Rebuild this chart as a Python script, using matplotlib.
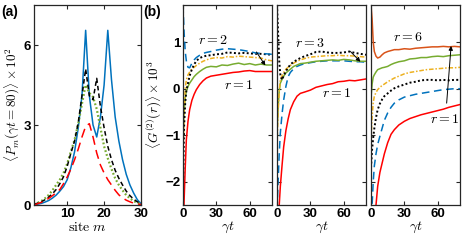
import matplotlib.pyplot as plt
import numpy as np

plt.rcParams['mathtext.fontset'] = 'cm'
plt.rcParams['font.family'] = ['Liberation Sans', 'DejaVu Sans']

# MATLAB default colours
BLUE = '#0072BD'
RED = '#FF0000'
GREEN = '#77AC30'
YELLOW = '#EDB120'
ORANGE = '#D95319'
SPINE = '#262626'

# ---- panel (a): occupation profile at gamma t = 80
sites = np.arange(1, 31)
p_blue = [0.0, 0.03, 0.06, 0.11, 0.17, 0.26, 0.37, 0.52, 0.69, 0.95,
          1.4, 2.0, 2.9, 4.1, 6.55, 4.1, 3.0, 2.55, 3.3, 4.5,
          6.55, 4.7, 3.3, 2.4, 1.7, 1.15, 0.75, 0.45, 0.2, 0.05]
p_black = [0.02, 0.07, 0.12, 0.2, 0.3, 0.42, 0.58, 0.8, 1.06, 1.45,
           1.95, 2.4, 3.1, 4.1, 5.1, 4.1, 3.95, 4.75, 3.7, 2.9,
           2.2, 1.7, 1.3, 1.0, 0.75, 0.52, 0.35, 0.22, 0.12, 0.05]
p_green = [0.03, 0.08, 0.15, 0.25, 0.38, 0.55, 0.75, 0.95, 1.2, 1.55,
           2.0, 2.45, 3.05, 3.8, 4.5, 4.2, 4.05, 3.6, 2.9, 2.2,
           1.75, 1.35, 1.0, 0.75, 0.55, 0.37, 0.25, 0.15, 0.08, 0.04]
p_red = [0.0, 0.05, 0.1, 0.16, 0.25, 0.35, 0.46, 0.58, 0.8, 1.05,
         1.35, 1.7, 2.1, 2.55, 2.95, 3.05, 2.55, 1.95, 1.5, 1.2,
         0.95, 0.75, 0.55, 0.38, 0.27, 0.18, 0.12, 0.07, 0.04, 0.02]

# ---- panel (b): G2 correlations vs time
t_grid = [0, 1, 2, 3, 4.5, 6, 8, 10, 12, 15, 18, 21, 25, 30, 35, 40,
          45, 50, 55, 60, 65, 70, 75, 80]

b1_red = [-3.2, -2.4, -1.7, -1.1, -0.7, -0.45, -0.25, -0.12, -0.02, 0.09, 0.17, 0.23,
          0.27, 0.29, 0.31, 0.33, 0.35, 0.36, 0.38, 0.39, 0.37, 0.37, 0.37, 0.37]
b1_green = [-1.2, -0.5, -0.2, -0.05, 0.05, 0.12, 0.19, 0.26, 0.31, 0.37, 0.42, 0.46,
            0.48, 0.47, 0.51, 0.50, 0.53, 0.55, 0.52, 0.54, 0.51, 0.53, 0.51, 0.51]
b1_yellow = [-1.4, -0.5, 0.0, 0.19, 0.3, 0.36, 0.42, 0.46, 0.5, 0.55, 0.59, 0.62,
             0.65, 0.67, 0.66, 0.69, 0.68, 0.70, 0.69, 0.68, 0.67, 0.66, 0.62, 0.60]
b1_black = [-2.1, -0.8, -0.3, -0.05, 0.12, 0.28, 0.42, 0.52, 0.6, 0.66, 0.69, 0.71,
            0.72, 0.74, 0.75, 0.78, 0.77, 0.76, 0.77, 0.76, 0.75, 0.75, 0.74, 0.73]
b1_blue = [1.8, 1.2, 0.8, 0.6, 0.46, 0.45, 0.55, 0.62, 0.67, 0.72, 0.76, 0.78,
           0.8, 0.83, 0.85, 0.86, 0.85, 0.84, 0.82, 0.8, 0.77, 0.76, 0.75, 0.74]

b2_red = [-3.5, -3.0, -2.5, -2.1, -1.66, -1.25, -0.9, -0.65, -0.45, -0.28, -0.16, -0.1,
          -0.07, -0.03, 0.03, 0.06, 0.09, 0.11, 0.15, 0.16, 0.18, 0.17, 0.19, 0.21]
b2_blue = [-2.6, -2.0, -1.4, -0.95, -0.55, -0.24, 0.05, 0.26, 0.35, 0.43, 0.48, 0.51,
           0.54, 0.56, 0.58, 0.59, 0.6, 0.6, 0.6, 0.6, 0.59, 0.58, 0.58, 0.57]
b2_green = [-0.95, -0.4, -0.05, 0.12, 0.2, 0.27, 0.34, 0.38, 0.42, 0.48, 0.51, 0.54,
            0.55, 0.57, 0.59, 0.6, 0.61, 0.62, 0.61, 0.63, 0.62, 0.6, 0.59, 0.59]
b2_yellow = [-1.25, -0.5, -0.05, 0.19, 0.28, 0.35, 0.42, 0.46, 0.5, 0.55, 0.59, 0.62,
             0.65, 0.68, 0.69, 0.7, 0.71, 0.71, 0.72, 0.71, 0.71, 0.7, 0.69, 0.68]
b2_black = [1.8, 1.2, 0.6, 0.3, 0.19, 0.28, 0.38, 0.45, 0.52, 0.58, 0.62, 0.66,
            0.7, 0.74, 0.79, 0.8, 0.78, 0.77, 0.77, 0.78, 0.8, 0.77, 0.75, 0.73]

b3_red = [-3.5, -3.3, -3.0, -2.8, -2.5, -2.1, -1.8, -1.6, -1.4, -1.16, -0.98, -0.88,
          -0.78, -0.7, -0.64, -0.6, -0.56, -0.53, -0.5, -0.47, -0.44, -0.4, -0.37, -0.34]
b3_blue = [-3.0, -2.5, -2.0, -1.66, -1.4, -1.2, -1.02, -0.85, -0.68, -0.52, -0.4, -0.31,
           -0.24, -0.18, -0.15, -0.12, -0.1, -0.08, -0.06, -0.04, -0.02, -0.01, 0.0, 0.0]
b3_black = [-1.7, -1.3, -1.05, -0.85, -0.62, -0.45, -0.32, -0.23, -0.16, -0.1, -0.04, 0.01,
            0.05, 0.09, 0.13, 0.15, 0.18, 0.19, 0.19, 0.18, 0.19, 0.18, 0.19, 0.19]
b3_yellow = [-1.1, -0.6, -0.3, -0.16, -0.08, -0.02, 0.03, 0.07, 0.1, 0.15, 0.19, 0.23,
             0.27, 0.32, 0.35, 0.37, 0.39, 0.41, 0.42, 0.43, 0.44, 0.45, 0.45, 0.46]
b3_green = [-0.2, 0.1, 0.25, 0.3, 0.36, 0.41, 0.43, 0.45, 0.46, 0.48, 0.52, 0.55,
            0.58, 0.6, 0.64, 0.65, 0.67, 0.67, 0.69, 0.7, 0.69, 0.71, 0.72, 0.73]
b3_orange = [1.8, 1.5, 1.0, 0.8, 0.7, 0.66, 0.68, 0.73, 0.77, 0.8, 0.82, 0.84,
             0.84, 0.86, 0.85, 0.87, 0.88, 0.89, 0.9, 0.9, 0.91, 0.9, 0.91, 0.9]

LW = 1.1
DASH = (0, (5, 3))
SHORTDASH = (0, (3, 2))
DOT = (0, (1, 1.2))
DASHDOT = (0, (3, 1.2, 1, 1.2))

STYLE = {
    'red': dict(color=RED, ls='-'),
    'blue': dict(color=BLUE, ls=DASH),
    'black': dict(color='k', ls=DOT),
    'yellow': dict(color=YELLOW, ls=DASHDOT),
    'green': dict(color=GREEN, ls='-'),
    'orange': dict(color=ORANGE, ls='-'),
}


def style_axes(ax):
    for s in ax.spines.values():
        s.set_color(SPINE)
        s.set_linewidth(0.9)
    ax.tick_params(direction='in', top=True, right=True, length=3, width=0.8,
                   color=SPINE, labelsize=9.5, pad=2)
    for lab in ax.get_xticklabels() + ax.get_yticklabels():
        lab.set_fontweight('bold')


fig = plt.figure(figsize=(4.63, 2.45), dpi=100)
H = 245.0
W = 463.0
bot = (H - 205) / H
hgt = 200 / H

# panel (a)
axa = fig.add_axes([34 / W, bot, 107 / W, hgt])
axa.plot(sites, p_blue, color=BLUE, lw=LW)
axa.plot(sites, p_green, color=GREEN, lw=1.6, ls=(0, (0.8, 1.0)))
axa.plot(sites, p_black, color='k', lw=LW, ls=SHORTDASH)
axa.plot(sites, p_red, color=RED, lw=LW, ls=(0, (6, 3.5)))
axa.set_xlim(1, 30)
axa.set_ylim(0, 7.5)
axa.set_xticks([10, 20, 30])
axa.set_yticks([0, 3, 6])
axa.set_xlabel(r'$\mathrm{site}\ m$', fontsize=10, labelpad=0)
axa.set_ylabel(r'$\langle P_m(\gamma t = 80)\rangle \times 10^2$', fontsize=9.5, labelpad=1)
style_axes(axa)

panels = [
    [('red', b1_red), ('green', b1_green), ('yellow', b1_yellow),
     ('black', b1_black), ('blue', b1_blue)],
    [('red', b2_red), ('blue', b2_blue), ('green', b2_green),
     ('yellow', b2_yellow), ('black', b2_black)],
    [('red', b3_red), ('blue', b3_blue), ('black', b3_black),
     ('yellow', b3_yellow), ('green', b3_green), ('orange', b3_orange)],
]
lefts = [183, 277, 371]
texts = [
    [('$r=2$', 27, 1.05), ('$r=1$', 50, 0.09)],
    [('$r=3$', 30, 0.98), ('$r=1$', 54, -0.09)],
    [('$r=6$', 33, 1.12), ('$r=1$', 66, -0.66)],
]
arrows = [((66, 0.79), (74, 0.5)), ((66, 0.8), (75, 0.58)), ((68, -0.31), (72, 0.92))]

for i, (curves, lft) in enumerate(zip(panels, lefts)):
    ax = fig.add_axes([lft / W, bot, 89 / W, hgt])
    for name, y in curves:
        st = STYLE[name]
        lw = 1.4 if name == 'black' else LW
        ax.plot(t_grid, y, color=st['color'], ls=st['ls'], lw=lw)
    ax.set_xlim(0, 80)
    ax.set_ylim(-2.5, 1.8)
    ax.set_xticks([0, 30, 60])
    ax.set_yticks([-2, -1, 0, 1])
    ax.set_xlabel(r'$\gamma t$', fontsize=10, labelpad=0)
    if i == 0:
        ax.set_ylabel(r'$\langle G^{(2)}(r)\rangle \times 10^3$', fontsize=9.5, labelpad=1)
    else:
        ax.set_yticklabels([])
    for s, x, y in texts[i]:
        ax.text(x, y, s, fontsize=10, ha='center', va='center')
    (x0, y0), (x1, y1) = arrows[i]
    ax.annotate('', xy=(x1, y1), xytext=(x0, y0),
                arrowprops=dict(arrowstyle='-|>', color='k', lw=0.7,
                                mutation_scale=6, shrinkA=0, shrinkB=0))
    style_axes(ax)

fig.text(1 / W, 1 - 12 / H, '(a)', fontsize=10, fontweight='bold', va='center')
fig.text(143 / W, 1 - 12 / H, '(b)', fontsize=10, fontweight='bold', va='center')

fig.savefig('out.png', dpi=100)
